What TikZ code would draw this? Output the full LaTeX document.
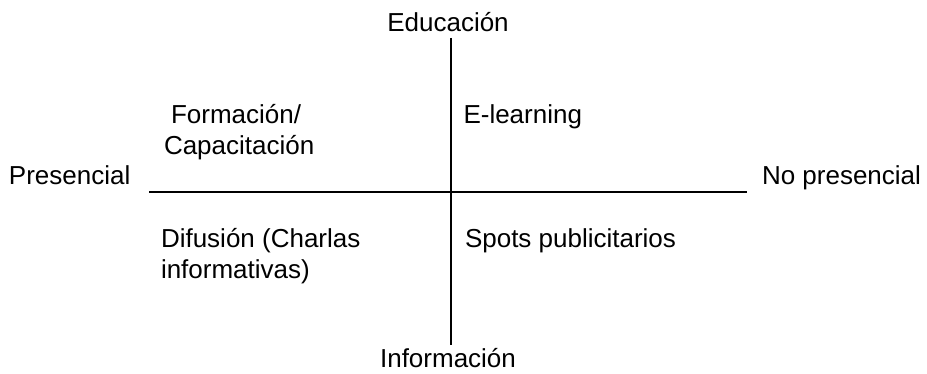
\documentclass[tikz,border=0pt]{standalone}
\usepackage{fontspec}
\setmainfont{Liberation Sans}
\begin{document}
\begin{tikzpicture}[x=1pt,y=-1pt,
  lbl/.style={inner sep=0pt,outer sep=0pt,font=\fontsize{26}{31}\selectfont},
  axis/.style={line width=2pt}]
\useasboundingbox (0,0) rectangle (927,374);
\coordinate (top) at (451,38);
\coordinate (bot) at (451,345);
\coordinate (lft) at (149,192);
\coordinate (rgt) at (747,192);
\draw[axis] (top) -- (bot);
\draw[axis] (lft) -- (rgt);
\node[lbl,anchor=base] (edu) at (448,32) {Educación};
\node[lbl,anchor=base] (inf) at (448,367) {Información};
\node[lbl,anchor=base west] (pre) at (9,185) {Presencial};
\node[lbl,anchor=base west] (nop) at (762,185) {No presencial};
\node[lbl,anchor=base west] (f1) at (171,123.5) {Formación/};
\node[lbl,anchor=base west] (f2) at (164,155) {Capacitación};
\node[lbl,anchor=base west] (el) at (463.5,123.5) {E-learning};
\node[lbl,anchor=base west] (d1) at (161,248) {Difusión (Charlas};
\node[lbl,anchor=base west] (d2) at (161,279) {informativas)};
\node[lbl,anchor=base west] (sp) at (465,248) {Spots publicitarios};
\end{tikzpicture}
\end{document}
